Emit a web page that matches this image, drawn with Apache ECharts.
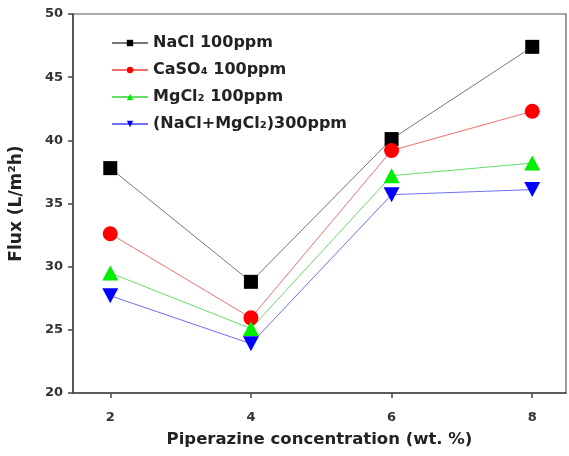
<!DOCTYPE html>
<html>
<head>
<meta charset="utf-8">
<script src="https://cdn.jsdelivr.net/npm/echarts@6/dist/echarts.min.js"></script>
<style>
  html, body { margin: 0; padding: 0; background: #fff; }
  #chart { width: 569px; height: 456px; }
</style>
</head>
<body>
<div id="chart"></div>
<script>
// piperazine concentration (wt. %)
var conc = [2, 4, 6, 8];
var xTicks = [2, 4, 6, 8];

// flux values, L/m2h
var nacl = [37.8, 28.8, 40.1, 47.4];
var caso4 = [32.6, 25.95, 39.2, 42.3];
var mgcl2 = [29.5, 25.1, 37.2, 38.2];
var mixed = [27.7, 23.9, 35.7, 36.1];

var seriesNames = ['NaCl 100ppm', 'CaSO\u2084 100ppm', 'MgCl\u2082 100ppm', '(NaCl+MgCl\u2082)300ppm'];

var downTri = 'path://M0,0 L10,0 L5,9 Z';
var upTri = 'path://M5,0 L10,9 L0,9 Z';

function pairs(vals) {
    var out = [];
    for (var i = 0; i < conc.length; i++) out.push([conc[i], vals[i]]);
    return out;
}

var chart = echarts.init(document.getElementById('chart'));

function makeSeries(name, vals, symbol, size, markColor, lineColor) {
    return {
        name: name,
        type: 'line',
        data: pairs(vals),
        symbol: symbol,
        symbolSize: size,
        showAllSymbol: true,
        lineStyle: { color: lineColor, width: 1 },
        itemStyle: { color: markColor },
        emphasis: { disabled: true },
        z: 3
    };
}

var option = {
    backgroundColor: '#fff',
    animation: false,
    grid: {
        left: 72, right: 3, top: 14, bottom: 63,
        show: true, borderColor: '#555', borderWidth: 1.2
    },
    legend: {
        orient: 'vertical',
        left: 106, top: 30,
        itemWidth: 36, itemHeight: 8,
        itemGap: 11,
        textStyle: { fontFamily: 'DejaVu Sans', fontWeight: 'bold', fontSize: 16, color: '#222' },
        data: seriesNames
    },
    xAxis: {
        type: 'value',
        min: 1.47, max: 8.48,
        name: 'Piperazine concentration (wt. %)',
        nameLocation: 'middle',
        nameGap: 38,
        nameTextStyle: { fontFamily: 'DejaVu Sans', fontWeight: 'bold', fontSize: 16.5, color: '#222' },
        splitLine: { show: false },
        axisLine: { lineStyle: { color: '#444', width: 1.5 } },
        axisTick: { customValues: xTicks, length: 5, lineStyle: { color: '#444', width: 1.5 } },
        axisLabel: { customValues: xTicks, fontFamily: 'DejaVu Sans', fontWeight: 'bold', fontSize: 13, color: '#333', margin: 18 }
    },
    yAxis: {
        type: 'value',
        min: 20, max: 50, interval: 5,
        name: 'Flux (L/m\u00b2h)',
        nameLocation: 'middle',
        nameGap: 48,
        nameTextStyle: { fontFamily: 'DejaVu Sans', fontWeight: 'bold', fontSize: 17, color: '#222' },
        splitLine: { show: false },
        axisLine: { show: true, lineStyle: { color: '#444', width: 1.5 } },
        axisTick: { show: true, length: 5, lineStyle: { color: '#444', width: 1.5 } },
        axisLabel: { fontFamily: 'DejaVu Sans', fontWeight: 'bold', fontSize: 13, color: '#333', margin: 10 }
    },
    series: [
        makeSeries(seriesNames[0], nacl, 'rect', 14, '#000', '#777'),
        makeSeries(seriesNames[1], caso4, 'circle', 15, '#ff0000', '#f07070'),
        makeSeries(seriesNames[2], mgcl2, upTri, [16, 15], '#00ee00', '#66dd66'),
        makeSeries(seriesNames[3], mixed, downTri, [16, 15], '#0000ff', '#7070f0')
    ]
};

chart.setOption(option);
</script>
</body>
</html>
